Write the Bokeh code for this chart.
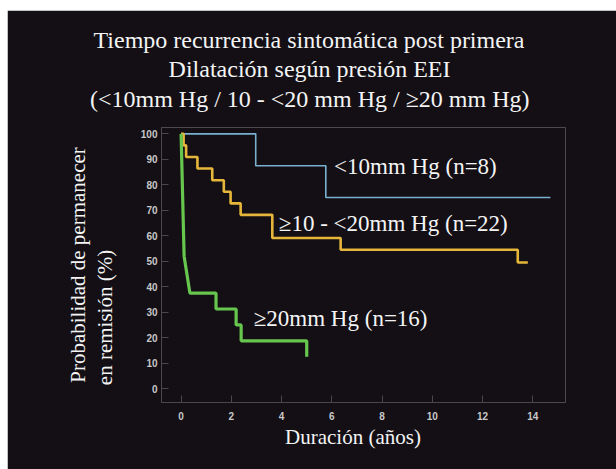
from bokeh.plotting import figure
from bokeh.models import FixedTicker, LinearAxis, Label, Title
from bokeh.embed import file_html
from bokeh.resources import INLINE

# ---- data ----
years_ticks = [0, 2, 4, 6, 8, 10, 12, 14]
pct_ticks = [0, 10, 20, 30, 40, 50, 60, 70, 80, 90, 100]

# < 10 mm Hg (n=8)
blue_t = [2.97, 5.76]
blue_v = [87.5, 75.0]
blue_end = 14.7

# >= 10 - < 20 mm Hg (n=22)
yel_t = [0.1, 0.2, 0.65, 1.24, 1.7, 1.97, 2.37, 3.63, 6.35, 13.4]
yel_v = [95.5, 90.9, 86.4, 81.8, 77.3, 72.7, 68.2, 59.1, 54.5, 49.5]
yel_end = 13.8

# >= 20 mm Hg (n=16): steep initial fall, then steps
grn_early_t = [0.0, 0.12, 0.35]
grn_early_v = [100.0, 52.0, 37.5]
grn_t = [1.39, 2.19, 2.39, 5.0]
grn_v = [31.25, 25.0, 18.75, 12.5]
grn_end = 5.0

title_lines = ["Tiempo recurrencia sintomática post primera",
               "Dilatación según presión EEI",
               "(<10mm Hg / 10 - <20 mm Hg / \u226520 mm Hg)"]
ylabel_outer = "Probabilidad de permanecer"
ylabel_inner = "en remisión (%)"
xlabel = "Duración (años)"

BG = "#130f14"
SERIF = "Liberation Serif"
WHITE = "#f4f4f4"
NBSP = "\u00a0"


def steps(t0, v0, ts, vs, end):
    xs, ys = [t0], [v0]
    prev = v0
    for t, v in zip(ts, vs):
        xs += [t, t]
        ys += [prev, v]
        prev = v
    xs.append(end)
    ys.append(prev)
    return xs, ys


p = figure(width=609, height=459, output_backend="svg", toolbar_location=None,
           x_range=(-0.78, 15.3), y_range=(-5.46, 102.5),
           min_border_left=154, min_border_right=51,
           min_border_top=115, min_border_bottom=67,
           margin=(10, 0, 0, 7))
p.background_fill_color = BG
p.border_fill_color = BG
p.outline_line_color = None
p.xgrid.visible = False
p.ygrid.visible = False
p.title.visible = False

# title lines (right-aligned with offsets so each line is centred on the page);
# the first one added sits closest to the plot
title_layout = [(title_lines[2], 31, 36), (title_lines[1], -27, 115), (title_lines[0], 29, 41)]
for txt, standoff, off in title_layout:
    t = Title(text=txt, align="right", offset=off, standoff=standoff,
              text_font=SERIF, text_font_style="normal", text_font_size="24px",
              text_color=WHITE)
    p.add_layout(t, "above")

for ax in (p.xaxis[0], p.yaxis[0]):
    ax.axis_line_color = "#4a474c"
    ax.major_tick_line_color = "#4a474c"
    ax.major_tick_in = 7
    ax.major_tick_out = 0
    ax.minor_tick_line_color = None
    ax.major_label_text_color = "#c8c8c8"
    ax.major_label_text_font = "Liberation Sans"
    ax.major_label_text_font_style = "bold"
    ax.major_label_text_font_size = "10px"

p.xaxis.ticker = FixedTicker(ticks=years_ticks)
p.yaxis.ticker = FixedTicker(ticks=pct_ticks)
p.xaxis.bounds = (-0.78, 14)
p.yaxis.bounds = (-5.46, 100)
p.xaxis.major_label_standoff = 9
p.yaxis.major_label_standoff = 4


def label_axis(text, standoff):
    ax = LinearAxis(ticker=FixedTicker(ticks=[]),
                    axis_label=text, axis_label_standoff=standoff,
                    axis_line_color=None, major_tick_line_color=None,
                    minor_tick_line_color=None, major_label_text_font_size="0px",
                    major_label_standoff=0, major_tick_in=0, major_tick_out=0,
                    minor_tick_in=0, minor_tick_out=0)
    ax.axis_label_text_font = SERIF
    ax.axis_label_text_font_style = "normal"
    ax.axis_label_text_font_size = "21px"
    ax.axis_label_text_color = WHITE
    return ax


# the short lines are padded with no-break spaces so that they start where the reference's do
p.add_layout(label_axis(ylabel_inner + NBSP * 20, 21), "left")
p.add_layout(label_axis(ylabel_outer, 0), "left")
p.add_layout(label_axis(xlabel + NBSP * 4, 2), "below")

bx, by = steps(0, 100, blue_t, blue_v, blue_end)
p.line(bx, by, line_color="#7ab0cf", line_width=1.6)

yx, yy = steps(0, 100, yel_t, yel_v, yel_end)
p.line(yx, yy, line_color="#e6b63a", line_width=2.6)

gx, gy = steps(grn_early_t[-1], grn_early_v[-1], grn_t, grn_v, grn_end)
p.line(grn_early_t[:-1] + gx, grn_early_v[:-1] + gy, line_color="#66c64e", line_width=3.2)

series_labels = [
    ("<10mm Hg (n=8)", 6.09, 87.3),
    ("\u226510 - <20mm Hg (n=22)", 3.89, 64.7),
    ("\u226520mm Hg (n=16)", 2.89, 27.5),
]
for txt, x, y in series_labels:
    p.add_layout(Label(x=x, y=y, text=txt, text_color=WHITE, text_font=SERIF,
                       text_font_size="23px", text_baseline="middle", text_align="left"))

open("out.html", "w").write(file_html(p, INLINE))
